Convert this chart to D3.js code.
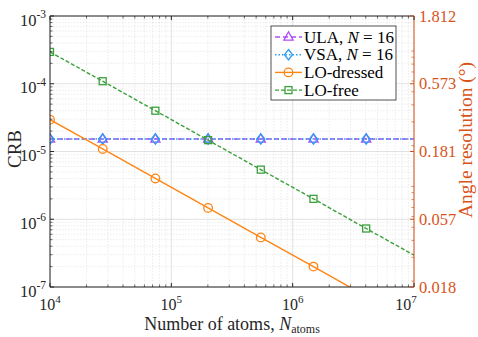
<!DOCTYPE html>
<html><head><meta charset="utf-8">
<script src="https://cdn.jsdelivr.net/npm/d3@7"></script>
<style>body{margin:0;background:#fff}svg{display:block}</style>
</head><body><svg id="c" width="478" height="337" font-family="'Liberation Serif', 'DejaVu Serif', 'Times New Roman', serif"></svg>
<script>
const nAtoms = [1e4, 2.718e4, 7.389e4, 2.009e5, 5.46e5, 1.484e6, 4.034e6, 1e7];
const ula = [1.53e-5, 1.53e-5, 1.53e-5, 1.53e-5, 1.53e-5, 1.53e-5, 1.53e-5, 1.53e-5];
const vsa = [1.53e-5, 1.53e-5, 1.53e-5, 1.53e-5, 1.53e-5, 1.53e-5, 1.53e-5, 1.53e-5];
const loDressed = [2.95e-5, 1.09e-5, 4.0e-6, 1.47e-6, 5.4e-7, 2.0e-7, 7.3e-8, 2.95e-8];
const loFree = [2.95e-4, 1.09e-4, 4.0e-5, 1.47e-5, 5.4e-6, 2.0e-6, 7.3e-7, 2.95e-7];
const markerCount = 7;
const xTicks = [1e4, 1e5, 1e6, 1e7];
const xTickExp = ["4", "5", "6", "7"];
const yTicks = [1e-7, 1e-6, 1e-5, 1e-4, 1e-3];
const yTickExp = ["-7", "-6", "-5", "-4", "-3"];
const rTicks = [0.01812, 0.0573, 0.1812, 0.573, 1.812];
const rTickLabels = ["0.018", "0.057", "0.181", "0.573", "1.812"];
const seriesNames = ["ULA, N = 16", "VSA, N = 16", "LO-dressed", "LO-free"];

const L = 50, R = 414, T = 16, B = 287;
const svg = d3.select("#c");
const x = d3.scaleLog().domain([1e4, 1e7]).range([L, R]);
const y = d3.scaleLog().domain([1e-7, 1e-3]).range([B, T]);
const yr = d3.scaleLog().domain([0.01812, 1.812]).range([B, T]);
const orangeAx = "#D95319";

const minorX = [], minorY = [], minorR = [];
for (let e = 4; e < 7; e++) for (let m = 2; m <= 9; m++) minorX.push(m * Math.pow(10, e));
for (let e = -7; e < -3; e++) for (let m = 2; m <= 9; m++) minorY.push(m * Math.pow(10, e));
for (let e = -2; e < 1; e++) for (let m = 1; m <= 9; m++) { const v = m * Math.pow(10, e); if (v > 0.01812 && v < 1.812) minorR.push(v); }

const g = svg.append("g");
g.selectAll(".mgx").data(minorX).join("line").attr("x1", d => x(d)).attr("x2", d => x(d)).attr("y1", T).attr("y2", B)
  .attr("stroke", "#e4e4e4").attr("stroke-width", 0.7).attr("stroke-dasharray", "1.5,1.5");
g.selectAll(".mgy").data(minorY).join("line").attr("y1", d => y(d)).attr("y2", d => y(d)).attr("x1", L).attr("x2", R)
  .attr("stroke", "#e4e4e4").attr("stroke-width", 0.7).attr("stroke-dasharray", "1.5,1.5");
g.selectAll(".gx").data(xTicks).join("line").attr("x1", d => x(d)).attr("x2", d => x(d)).attr("y1", T).attr("y2", B)
  .attr("stroke", "#dadada").attr("stroke-width", 0.8);
g.selectAll(".gy").data(yTicks).join("line").attr("y1", d => y(d)).attr("y2", d => y(d)).attr("x1", L).attr("x2", R)
  .attr("stroke", "#dadada").attr("stroke-width", 0.8);

svg.append("defs").append("clipPath").attr("id", "clip").append("rect").attr("x", L).attr("y", T).attr("width", R - L).attr("height", B - T);

const series = [
  { name: seriesNames[0], vals: ula, color: "#B24BF3", dash: "5,3", marker: "tri" },
  { name: seriesNames[1], vals: vsa, color: "#2A9DF4", dash: "1.5,2", marker: "dia" },
  { name: seriesNames[2], vals: loDressed, color: "#FF8514", dash: null, marker: "circ" },
  { name: seriesNames[3], vals: loFree, color: "#3AA03A", dash: "4,2", marker: "sq" }
];

function drawMarker(sel, type, color) {
  if (type === "tri") sel.append("path").attr("d", "M0,-5.2L4.6,3.2L-4.6,3.2Z");
  else if (type === "dia") sel.append("path").attr("d", "M0,-5.2L4,0L0,5.2L-4,0Z");
  else if (type === "circ") sel.append("circle").attr("r", 4.3);
  else sel.append("rect").attr("x", -3.5).attr("y", -3.5).attr("width", 7).attr("height", 7);
  sel.selectAll("*").attr("fill", "none").attr("stroke", color).attr("stroke-width", 1.3);
}

const plot = svg.append("g").attr("clip-path", "url(#clip)");
const line = d3.line().x(d => x(d[0])).y(d => y(d[1]));
series.forEach(s => {
  const pts = nAtoms.map((n, i) => [n, s.vals[i]]);
  plot.append("path").attr("d", line(pts)).attr("fill", "none").attr("stroke", s.color)
    .attr("stroke-width", 1.4).attr("stroke-dasharray", s.dash);
  pts.slice(0, markerCount).forEach(p => {
    const mg = plot.append("g").attr("transform", `translate(${x(p[0])},${y(p[1])})`);
    drawMarker(mg, s.marker, s.color);
  });
});

const ax = svg.append("g");
ax.append("line").attr("x1", L).attr("x2", R).attr("y1", B).attr("y2", B).attr("stroke", "#262626");
ax.append("line").attr("x1", L).attr("x2", R).attr("y1", T).attr("y2", T).attr("stroke", "#262626");
ax.append("line").attr("x1", L).attr("x2", L).attr("y1", T).attr("y2", B).attr("stroke", "#262626");
ax.append("line").attr("x1", R).attr("x2", R).attr("y1", T).attr("y2", B).attr("stroke", orangeAx);

xTicks.forEach(v => {
  ax.append("line").attr("x1", x(v)).attr("x2", x(v)).attr("y1", B).attr("y2", B - 4).attr("stroke", "#262626");
  ax.append("line").attr("x1", x(v)).attr("x2", x(v)).attr("y1", T).attr("y2", T + 4).attr("stroke", "#262626");
});
minorX.forEach(v => {
  ax.append("line").attr("x1", x(v)).attr("x2", x(v)).attr("y1", B).attr("y2", B - 2.5).attr("stroke", "#262626").attr("stroke-width", 0.7);
  ax.append("line").attr("x1", x(v)).attr("x2", x(v)).attr("y1", T).attr("y2", T + 2.5).attr("stroke", "#262626").attr("stroke-width", 0.7);
});
yTicks.forEach(v => {
  ax.append("line").attr("y1", y(v)).attr("y2", y(v)).attr("x1", L).attr("x2", L + 4).attr("stroke", "#262626");
});
minorY.forEach(v => {
  ax.append("line").attr("y1", y(v)).attr("y2", y(v)).attr("x1", L).attr("x2", L + 2.5).attr("stroke", "#262626").attr("stroke-width", 0.7);
});
rTicks.forEach(v => {
  ax.append("line").attr("y1", yr(v)).attr("y2", yr(v)).attr("x1", R).attr("x2", R - 4).attr("stroke", orangeAx);
});
minorR.forEach(v => {
  ax.append("line").attr("y1", yr(v)).attr("y2", yr(v)).attr("x1", R).attr("x2", R - 2.5).attr("stroke", orangeAx).attr("stroke-width", 0.7);
});

xTicks.forEach((v, i) => {
  const t = ax.append("text").attr("x", x(v) + (i === 3 ? -8 : 0)).attr("y", 310).attr("text-anchor", "middle").attr("font-size", 16).attr("fill", "#262626");
  t.append("tspan").text("10");
  t.append("tspan").attr("dy", -7).attr("font-size", 11).text(xTickExp[i]);
});
yTicks.forEach((v, i) => {
  const t = ax.append("text").attr("x", 46).attr("y", y(v) + 9.5).attr("text-anchor", "end").attr("font-size", 16.5).attr("fill", "#262626");
  t.append("tspan").text("10");
  t.append("tspan").attr("dy", -7.5).attr("font-size", 11.5).text(yTickExp[i]);
});
rTicks.forEach((v, i) => {
  ax.append("text").attr("x", 419).attr("y", yr(v) + 5.5).attr("font-size", 16.5).attr("fill", orangeAx).text(rTickLabels[i]);
});

svg.append("text").attr("transform", "translate(21,149) rotate(-90)").attr("text-anchor", "middle").attr("font-size", 19).attr("fill", "#262626").text("CRB");
const xl = svg.append("text").attr("x", 232).attr("y", 330).attr("text-anchor", "middle").attr("font-size", 18).attr("fill", "#262626");
xl.append("tspan").text("Number of atoms, ");
xl.append("tspan").attr("font-style", "italic").text("N");
xl.append("tspan").attr("dy", 3).attr("font-size", 12).text("atoms");
svg.append("text").attr("transform", "translate(472,140) rotate(-90)").attr("text-anchor", "middle").attr("font-size", 19.5).attr("fill", orangeAx).text("Angle resolution (°)");

const lg = svg.append("g");
lg.append("rect").attr("x", 271).attr("y", 26).attr("width", 125).attr("height", 74).attr("fill", "#fff").attr("stroke", "#262626").attr("stroke-width", 0.8);
series.forEach((s, i) => {
  const yy = 37 + i * 17.7;
  lg.append("line").attr("x1", 275).attr("x2", 302).attr("y1", yy).attr("y2", yy).attr("stroke", s.color).attr("stroke-width", 1.4).attr("stroke-dasharray", s.dash);
  const mg = lg.append("g").attr("transform", `translate(288.5,${yy})`);
  drawMarker(mg, s.marker, s.color);
  const t = lg.append("text").attr("x", 304).attr("y", yy + 5.5).attr("font-size", 17).attr("fill", "#000");
  if (i < 2) {
    const parts = s.name.split("N");
    t.append("tspan").text(parts[0]);
    t.append("tspan").attr("font-style", "italic").text("N");
    t.append("tspan").text(parts[1]);
  } else t.text(s.name);
});
</script></body></html>
